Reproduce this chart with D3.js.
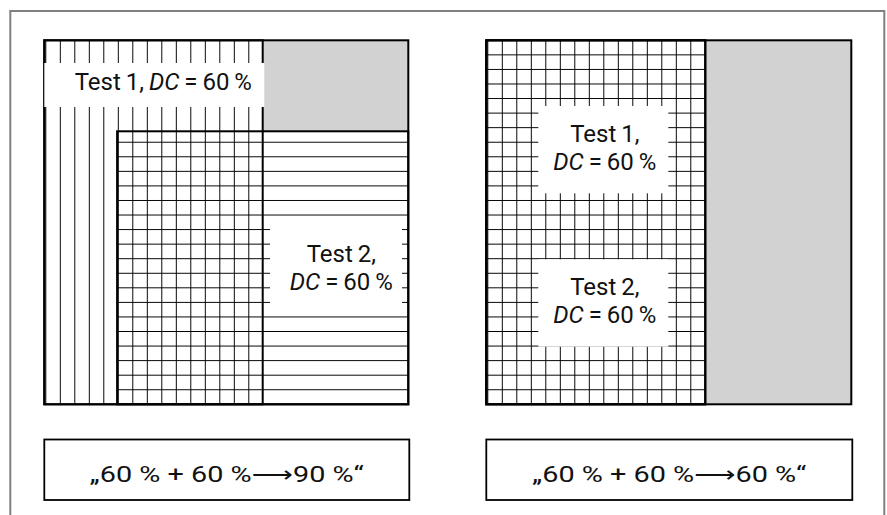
<!DOCTYPE html>
<html>
<head>
<meta charset="utf-8">
<script src="https://cdn.jsdelivr.net/npm/d3@7"></script>
<style>
  html, body { margin: 0; padding: 0; background: #fff; }
  svg { display: block; }
  text { font-family: Roboto, "Open Sans", "DejaVu Sans", sans-serif; fill: #111; }
</style>
</head>
<body>
<svg id="chart" width="887" height="515"></svg>
<script>
// ---------- data ----------
const tests = ["Test 1", "Test 2"];
const dcValues = [60, 60];                 // decision coverage of each test, %
const combinedCoverage = [90, 60];         // resulting coverage in each scenario, %
// coverage rectangles in "code space" (percent): [x0, x1, y0, y1]
const leftRects  = [[0, 60, 0, 100], [20, 100, 25, 100]];
const rightRects = [[0, 60, 0, 100], [0, 60, 0, 100]];

// ---------- layout ----------
const W = 887, H = 515;
const svg = d3.select("#chart");
svg.append("rect").attr("width", W).attr("height", H).attr("fill", "#fff");

// outer frame (runs off the bottom)
svg.append("rect")
  .attr("x", 10.3).attr("y", 11).attr("width", 874).attr("height", 560)
  .attr("fill", "none").attr("stroke", "#808080").attr("stroke-width", 2);

const defs = svg.append("defs");
const vStep = 14.5, hStep = 14.56;
const vp = defs.append("pattern").attr("id", "vhatch").attr("patternUnits", "userSpaceOnUse")
  .attr("x", 16 - vStep / 2).attr("y", 0).attr("width", vStep).attr("height", 20);
vp.append("line").attr("x1", vStep / 2).attr("x2", vStep / 2).attr("y1", 0).attr("y2", 20)
  .attr("stroke", "#000").attr("stroke-width", 1);
const hp = defs.append("pattern").attr("id", "hhatch").attr("patternUnits", "userSpaceOnUse")
  .attr("x", 0).attr("y", -hStep / 2).attr("width", 20).attr("height", hStep);
hp.append("line").attr("y1", hStep / 2).attr("y2", hStep / 2).attr("x1", 0).attr("x2", 20)
  .attr("stroke", "#000").attr("stroke-width", 1);

const panels = [
  { x: 44.3, y: 40.3, w: 364, h: 364, rects: leftRects,
    labels: [
      { box: [0, 220, 22.7, 66.7], cx: 119, lines: [[49.5, "single"]] },
      { box: [225.7, 357.7, 177.7, 275.7], cx: 297, lines: [[221.4, "name"], [249.8, "dc"]] }
    ] },
  { x: 486.3, y: 40.3, w: 365, h: 364, rects: rightRects,
    labels: [
      { box: [52, 182, 65.7, 153], cx: 118.5, lines: [[101.4, "name"], [129.6, "dc"]] },
      { box: [52, 182, 219, 306.4], cx: 118.5, lines: [[254.7, "name"], [283, "dc"]] }
    ] }
];

function addLine(t, kind, i) {
  if (kind === "single" || kind === "name") {
    t.append("tspan").text(tests[i] + (kind === "single" ? ", " : ","));
  }
  if (kind === "single" || kind === "dc") {
    t.append("tspan").attr("font-style", "italic").text("DC");
    t.append("tspan").text(" = " + dcValues[i] + " %");
  }
}

panels.forEach((p, pi) => {
  const g = svg.append("g").attr("transform", `translate(${p.x},${p.y})`);
  const x = d3.scaleLinear().domain([0, 100]).range([0, p.w]);
  const y = d3.scaleLinear().domain([0, 100]).range([0, p.h]);

  // uncovered code = grey background
  g.append("rect").attr("x", x(0)).attr("y", y(0)).attr("width", x(100) - x(0)).attr("height", y(100) - y(0))
    .attr("fill", "#d2d2d2");
  // white base of each test's coverage
  g.selectAll("rect.base").data(p.rects).join("rect").attr("class", "base")
    .attr("x", d => x(d[0])).attr("y", d => y(d[2]))
    .attr("width", d => x(d[1]) - x(d[0])).attr("height", d => y(d[3]) - y(d[2]))
    .attr("fill", "#fff");
  // hatching: test 1 vertical, test 2 horizontal
  g.selectAll("rect.hatch").data(p.rects).join("rect").attr("class", "hatch")
    .attr("x", d => x(d[0])).attr("y", d => y(d[2]))
    .attr("width", d => x(d[1]) - x(d[0])).attr("height", d => y(d[3]) - y(d[2]))
    .attr("fill", (d, i) => i === 0 ? "url(#vhatch)" : "url(#hhatch)");
  // borders of coverage areas
  g.selectAll("rect.edge").data(p.rects).join("rect").attr("class", "edge")
    .attr("x", d => x(d[0])).attr("y", d => y(d[2]))
    .attr("width", d => x(d[1]) - x(d[0])).attr("height", d => y(d[3]) - y(d[2]))
    .attr("fill", "none").attr("stroke", "#000").attr("stroke-width", 2);
  // panel border
  g.append("rect").attr("x", x(0)).attr("y", y(0)).attr("width", x(100) - x(0)).attr("height", y(100) - y(0))
    .attr("fill", "none").attr("stroke", "#000").attr("stroke-width", 2);

  // labels
  p.labels.forEach((lb, i) => {
    g.append("rect").attr("x", lb.box[0]).attr("y", lb.box[2])
      .attr("width", lb.box[1] - lb.box[0]).attr("height", lb.box[3] - lb.box[2]).attr("fill", "#fff");
    lb.lines.forEach(([by, kind]) => {
      const t = g.append("text").attr("x", lb.cx).attr("y", by).attr("text-anchor", "middle")
        .attr("font-size", 24).attr("word-spacing", -1);
      addLine(t, kind, i);
    });
  });

  // result box below
  const bx = p.x, bw = p.w + 1;
  svg.append("rect").attr("x", bx).attr("y", 439.5).attr("width", bw).attr("height", 60.5)
    .attr("fill", "#fff").attr("stroke", "#000").attr("stroke-width", 1.8);
  svg.append("text").attr("x", bx + bw / 2).attr("y", 482).attr("text-anchor", "middle")
    .attr("font-size", 22.5)
    .attr("textLength", 274).attr("lengthAdjust", "spacingAndGlyphs")
    .text(`\u201E${dcValues[0]} % + ${dcValues[1]} %\u27F6${combinedCoverage[pi]} %\u201C`);
});
</script>
</body>
</html>
